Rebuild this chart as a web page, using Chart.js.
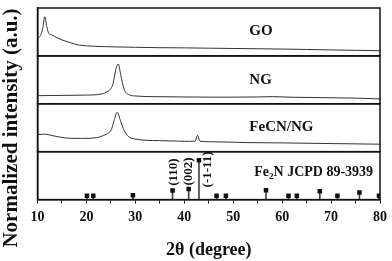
<!DOCTYPE html>
<html>
<head>
<meta charset="utf-8">
<script src="https://cdn.jsdelivr.net/npm/chart.js@4/dist/chart.umd.min.js"></script>
<style>
  html, body { margin: 0; padding: 0; background: #fff; }
  #wrap { width: 392px; height: 261px; }
</style>
</head>
<body>
<div id="wrap"><canvas id="xrd"></canvas></div>
<script>
// 2-theta axis ticks
const xTicks = [10, 20, 30, 40, 50, 60, 70, 80];

// GO pattern (normalized intensity)
const goAngle = [10, 10.4, 10.8, 11.1, 11.5, 11.9, 12.3, 12.9, 14, 15.2, 17, 18.6, 21, 25, 30, 35, 40, 45, 50, 55, 60, 65, 70, 75, 80];
const goIntensity = [17.7, 19.3, 23, 29, 40, 30, 23, 21.5, 18.5, 16, 13, 11, 10, 9.3, 8.8, 8.4, 8.2, 7.9, 7.6, 7.3, 7, 6.6, 6.1, 5.7, 5.3];

// NG pattern
const ngAngle = [10, 15, 20, 22, 23.3, 24, 24.8, 25.4, 26, 26.5, 27, 27.7, 28.7, 30, 34, 40, 45, 50, 55, 58, 62, 70, 75, 80];
const ngIntensity = [8.3, 8.6, 8.9, 9.3, 10.3, 11.7, 14.5, 20, 35, 40.7, 30, 15, 9.3, 8, 7.3, 7, 6.8, 6.8, 7, 7.3, 6.7, 6.2, 5.8, 5];

// FeCN/NG pattern
const fecnAngle = [10, 11.5, 13, 14.5, 16.6, 19, 22, 24, 24.6, 25.2, 25.7, 26.3, 27, 27.5, 28, 28.7, 30, 32, 35, 38, 40, 42.2, 42.7, 43.2, 45, 50, 53, 60, 70, 80];
const fecnIntensity = [17.7, 17.9, 16.5, 15, 13.7, 13.6, 14.3, 17.7, 19.3, 24, 32.7, 40.3, 31, 24, 19.3, 15, 13, 11.7, 11.3, 10.9, 10.6, 10.8, 16.7, 10.8, 10.2, 9.7, 9.3, 9, 8.3, 7.7];

// Fe2N reference card JCPDS 89-3939 (relative intensity)
const refAngle = [20.1, 21.4, 29.5, 37.6, 40.9, 43.0, 46.6, 48.5, 56.7, 61.3, 63.0, 67.7, 71.3, 75.8, 79.8];
const refIntensity = [10, 10, 11, 23, 27, 100, 10, 10, 24, 10, 10, 21, 10, 18, 10];

// Miller indices shown on the reference card
const hklLabels = ["(110)", "(002)", "(-1-11)"];

const panelNames = ["GO", "NG", "FeCN/NG"];
const refName = ["Fe", "2", "N JCPD 89-3939"];

const SERIF = '"Liberation Serif", "Times New Roman", serif';
const INK = "#111";

const toXY = (xs, ys) => xs.map((x, i) => ({ x, y: ys[i] }));

// panel scale (one for each stacked strip)
function panelScale(max) {
  return {
    type: "linear",
    axis: "y",
    position: "left",
    stack: "xrd",
    stackWeight: 1,
    min: 0,
    max,
    ticks: { display: false },
    grid: { display: false },
    border: { display: true, color: INK, width: 1.5 },
    afterFit(s) { s.width = 0; }
  };
}

// frames, panel names, hkl labels, y title
const annotations = {
  id: "annotations",
  afterDraw(chart, args, opts) {
    const { ctx, chartArea: area, scales } = chart;
    const x = scales.x;
    ctx.save();

    // frames around each strip
    ctx.strokeStyle = INK;
    ctx.lineWidth = 1.5;
    ["yGO", "yNG", "yFe", "yRef"].forEach(id => {
      const s = scales[id];
      ctx.strokeRect(area.left, s.top, area.right - area.left, s.bottom - s.top);
    });

    ctx.fillStyle = INK;
    ctx.textBaseline = "alphabetic";
    ctx.textAlign = "left";
    ctx.font = `bold 15px ${SERIF}`;
    opts.names.forEach(n => {
      ctx.fillText(n.text, x.getPixelForValue(n.x), scales[n.scale].getPixelForValue(n.y));
    });

    // Fe2N with subscript
    let px = x.getPixelForValue(opts.ref.x);
    const py = scales.yRef.getPixelForValue(opts.ref.y);
    ctx.font = `bold 14px ${SERIF}`;
    ctx.fillText(refName[0], px, py);
    px += ctx.measureText(refName[0]).width;
    ctx.font = `bold 9px ${SERIF}`;
    ctx.fillText(refName[1], px, py + 3);
    px += ctx.measureText(refName[1]).width;
    ctx.font = `bold 14px ${SERIF}`;
    ctx.fillText(refName[2], px, py);

    // rotated hkl labels
    ctx.font = `bold 13px ${SERIF}`;
    ctx.textBaseline = "middle";
    opts.hkl.forEach((h, i) => {
      ctx.save();
      ctx.translate(x.getPixelForValue(h.x), scales.yRef.getPixelForValue(h.y));
      ctx.rotate(-Math.PI / 2);
      ctx.fillText(hklLabels[i], 0, 0);
      ctx.restore();
    });

    // y axis title
    ctx.save();
    ctx.translate(opts.yTitle.x, opts.yTitle.y);
    ctx.rotate(-Math.PI / 2);
    ctx.textAlign = "center";
    ctx.font = `bold 21px ${SERIF}`;
    ctx.fillText("Normalized intensity (a.u.)", 0, 0);
    ctx.restore();

    ctx.restore();
  }
};

const lineStyle = {
  type: "line",
  borderColor: "#333",
  borderWidth: 1,
  pointRadius: 0,
  cubicInterpolationMode: "monotone",
  fill: false
};

new Chart(document.getElementById("xrd"), {
  type: "line",
  data: {
    datasets: [
      { ...lineStyle, label: "GO", data: toXY(goAngle, goIntensity), yAxisID: "yGO" },
      { ...lineStyle, label: "NG", data: toXY(ngAngle, ngIntensity), yAxisID: "yNG" },
      { ...lineStyle, label: "FeCN/NG", data: toXY(fecnAngle, fecnIntensity), yAxisID: "yFe" },
      {
        type: "bar",
        label: "Fe2N sticks",
        data: toXY(refAngle, refIntensity),
        yAxisID: "yRef",
        backgroundColor: "#444",
        barThickness: 1,
        order: 2
      },
      {
        type: "scatter",
        label: "Fe2N",
        data: toXY(refAngle, refIntensity),
        yAxisID: "yRef",
        pointStyle: "rect",
        pointRadius: 3.2,
        backgroundColor: INK,
        borderWidth: 0,
        showLine: false,
        order: 1
      }
    ]
  },
  options: {
    responsive: true,
    maintainAspectRatio: false,
    animation: false,
    layout: { padding: { left: 37.5, right: 9, top: 8, bottom: 0 } },
    plugins: {
      legend: { display: false },
      tooltip: { enabled: false },
      annotations: {
        names: [
          { text: panelNames[0], scale: "yGO", x: 53.3, y: 21.7 },
          { text: panelNames[1], scale: "yNG", x: 53.3, y: 20 },
          { text: panelNames[2], scale: "yFe", x: 53.3, y: 21 }
        ],
        ref: { x: 54.3, y: 61 },
        hkl: [{ x: 37.8, y: 35 }, { x: 40.95, y: 36 }, { x: 44.85, y: 31 }],
        yTitle: { x: 12, y: 128 }
      }
    },
    scales: {
      x: {
        type: "linear",
        min: 10,
        max: 80,
        offset: false,
        ticks: {
          stepSize: 5,
          color: INK,
          padding: 5,
          font: { family: SERIF, size: 14, weight: "bold" },
          callback: v => (xTicks.includes(v) ? v : "")
        },
        grid: { drawOnChartArea: false, drawTicks: true, tickLength: 4, color: INK, offset: false },
        border: { display: true, color: INK, width: 1.5 },
        title: {
          display: true,
          text: "2θ (degree)",
          color: INK,
          font: { family: SERIF, size: 18, weight: "bold" },
          padding: { top: 9, bottom: 0 }
        }
      },
      yRef: panelScale(122),
      yFe: panelScale(49),
      yNG: panelScale(49),
      yGO: panelScale(49)
    }
  },
  plugins: [annotations]
});
</script>
</body>
</html>
